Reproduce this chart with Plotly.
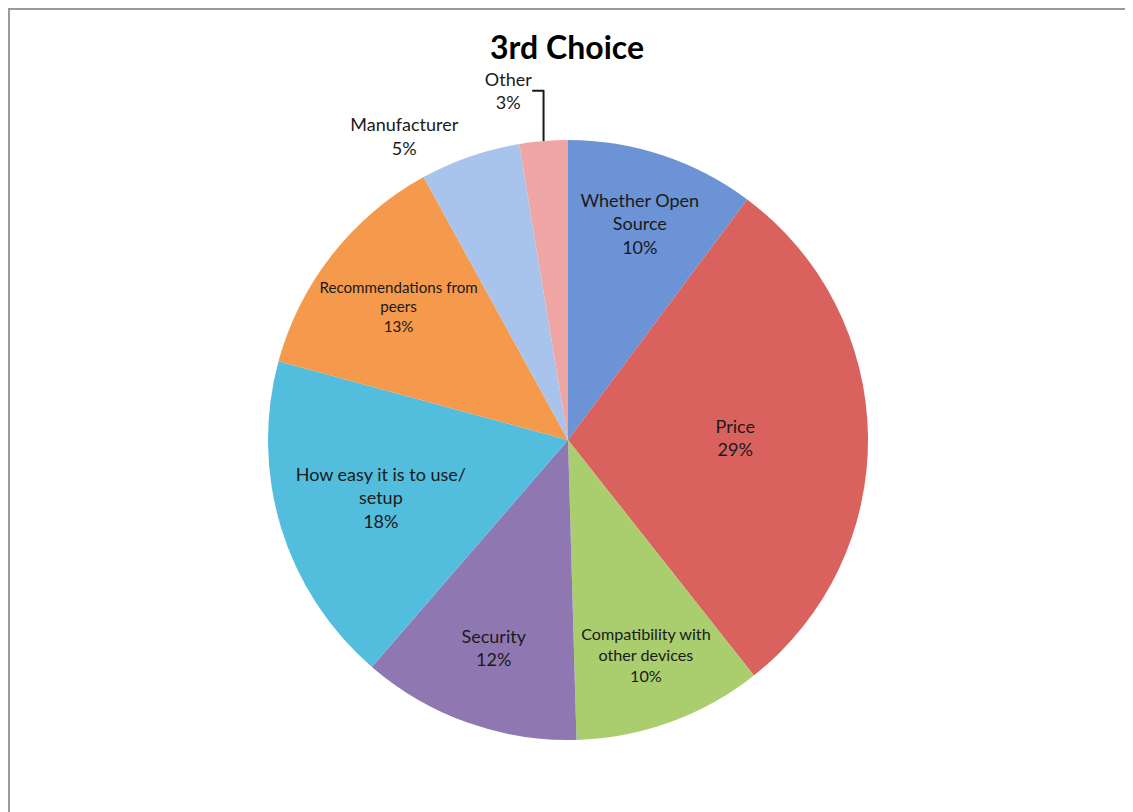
import plotly.graph_objects as go

labels = ["Whether Open<br>Source", "Price", "Compatibility with<br>other devices", "Security",
          "How easy it is to use/<br>setup", "Recommendations from<br>peers", "Manufacturer", "Other"]
values = [10.2, 29.2, 10.2, 11.8, 17.9, 12.8, 5.4, 2.6]
colors = ["#6B93D6", "#D9625F", "#AACD6E", "#8F78B2", "#52BDDD", "#F5994C", "#A9C4EC", "#EFA5A3"]
positions = ["inside"] * 6 + ["outside", "outside"]

fig = go.Figure(go.Pie(
    labels=labels,
    values=values,
    sort=False,
    direction="clockwise",
    rotation=0,
    marker=dict(colors=colors, line=dict(width=0)),
    texttemplate="%{label}<br>%{percent:.0%}",
    textposition=positions,
    insidetextorientation="horizontal",
    textfont=dict(family="Lato, Open Sans, sans-serif", size=18, color="#1a1a1a"),
    hoverinfo="label+percent",
    showlegend=False,
    domain=dict(x=[0, 1], y=[0, 1]),
))

fig.update_layout(
    width=1133, height=812,
    margin=dict(l=0, r=13, t=132, b=80, autoexpand=False),
    paper_bgcolor="white",
    title=dict(text="<b>3rd Choice</b>", x=0.4934, xanchor="center", y=0.965, yanchor="top",
               font=dict(family="Lato, Open Sans, sans-serif", size=32, color="black")),
    shapes=[dict(type="rect", xref="paper", yref="paper",
                 x0=0.0009, x1=1.0027, y0=-0.2, y1=1.2183,
                 line=dict(color="#9a9a9a", width=2), fillcolor="rgba(0,0,0,0)")],
)

fig.write_html("out.html")
